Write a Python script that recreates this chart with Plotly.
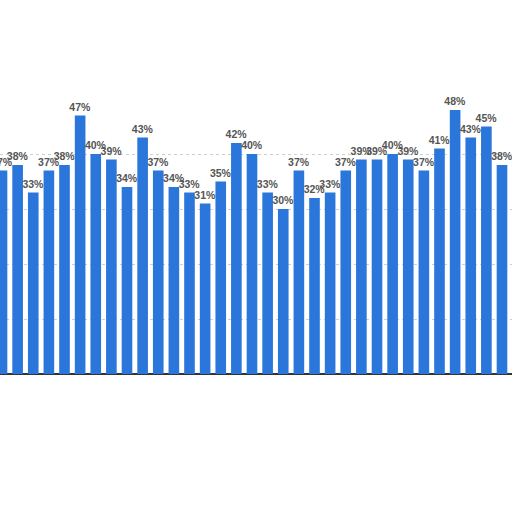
import plotly.graph_objects as go

values = [37, 38, 33, 37, 38, 47, 40, 39, 34, 43, 37, 34, 33, 31, 35, 42, 40,
          33, 30, 37, 32, 33, 37, 39, 39, 40, 39, 37, 41, 48, 43, 45, 38]
categories = list(range(len(values)))
labels = [f"{v}%" for v in values]
grid_ticks = [0, 10, 20, 30, 40]

fig = go.Figure(go.Bar(
    x=categories, y=values, text=labels, textposition="outside",
    constraintext="none",
    textfont=dict(family="Liberation Sans", size=10.5, color="#555555", weight="bold"),
    marker=dict(color="#2b76da", line=dict(width=0)),
    cliponaxis=False,
))
fig.update_layout(
    width=512, height=512,
    margin=dict(l=0, r=0, t=0, b=0),
    paper_bgcolor="white", plot_bgcolor="white",
    bargap=0.32, showlegend=False,
    xaxis=dict(range=[-0.128, 32.64], showticklabels=False, showgrid=False,
               zeroline=False, showline=False, ticks=""),
    yaxis=dict(range=[-25.09, 68.0], showticklabels=False, tickvals=grid_ticks,
               showgrid=True, gridcolor="#cfcfcf", griddash="dot",
               zeroline=True, zerolinecolor="#333333", zerolinewidth=1.5,
               showline=False, ticks=""),
)
fig.write_html("out.html", config={"displayModeBar": False},
               post_script="document.body.style.margin='0';")
